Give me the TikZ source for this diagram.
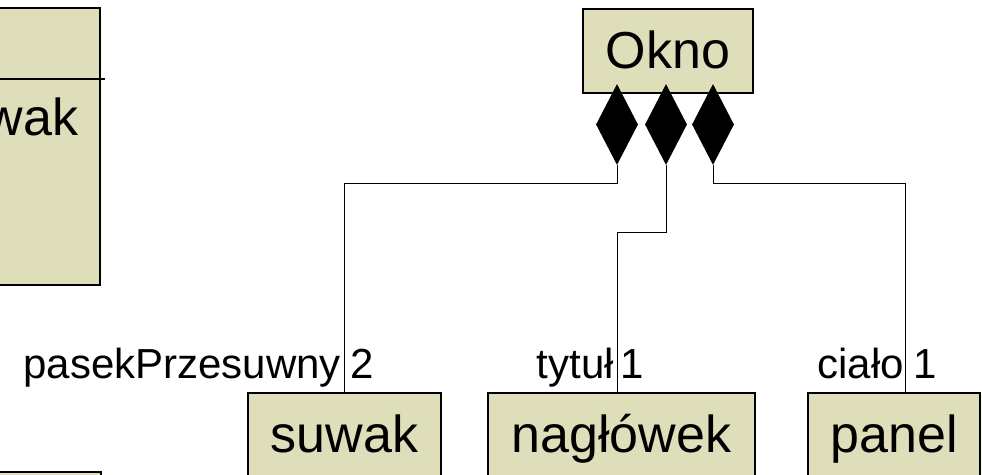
\documentclass[tikz,border=0pt]{standalone}
\usepackage{fontspec}
\setmainfont{Liberation Sans}
\usetikzlibrary{shapes.geometric}

\definecolor{clsfill}{RGB}{222,222,186}

\tikzset{
  cls/.style={draw, line width=1.5pt, fill=clsfill, anchor=north,
    minimum height=84pt, inner ysep=22pt, text height=38pt, text depth=2pt,
    font=\fontsize{52}{60}\selectfont},
  comp/.style={diamond, fill=black, inner sep=0pt,
    minimum width=42pt, minimum height=81pt},
  role/.style={inner sep=0pt, font=\fontsize{42}{50}\selectfont},
  link/.style={line width=1pt}
}

\begin{document}
\begin{tikzpicture}[x=1pt,y=-1pt]
	\clip (0,0) rectangle (982,474);
	% classes cut off at the left edge
	\draw[line width=1.5pt, fill=clsfill] (-10,8) rectangle (100,285);
	\draw[line width=1.5pt] (-10,79) -- (105,79);
	\node[anchor=base, inner sep=0pt, font=\fontsize{52}{60}\selectfont] (suwakattr) at (4.5,135) {suwak};
	\draw[line width=1.5pt, fill=clsfill] (-10,472) rectangle (101,540);

	% whole and parts
	\node[cls, minimum width=170pt] (okno) at (668,8) {Okno};
	\node[cls, minimum width=193pt] (suwak) at (344.5,392) {suwak};
	\node[cls, minimum width=267pt] (naglowek) at (621.5,392) {nagłówek};
	\node[cls, minimum width=172pt] (panel) at (894,392) {panel};

	% composition diamonds
	\node[comp] (d1) at (617,124.5) {};
	\node[comp] (d2) at (666,124.5) {};
	\node[comp] (d3) at (713,124.5) {};

	\draw[link] (d1.south) -- ++(0,18) -| (suwak.north);
	\draw[link] (d2.south) -- ++(0,67) -| ([xshift=-4.5pt]naglowek.north);
	\draw[link] (d3.south) -- ++(0,18) -| ([xshift=11pt]panel.north);

	% role names and multiplicities
	\node[role, anchor=base east] (rsuwak) at (341,378) {pasekPrzesuwny};
	\node[role, anchor=base west] (msuwak) at (350,378) {2};
	\node[role, anchor=base east] (rnaglowek) at (614,378) {tytuł};
	\node[role, anchor=base west] (mnaglowek) at (620,378) {1};
	\node[role, anchor=base east] (rpanel) at (904,378) {ciało};
	\node[role, anchor=base west] (mpanel) at (913,378) {1};
\end{tikzpicture}
\end{document}
